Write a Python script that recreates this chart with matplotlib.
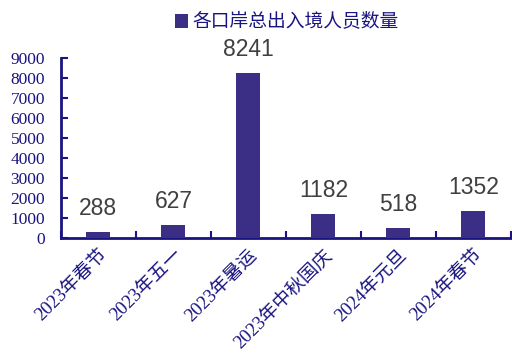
import numpy as np
import matplotlib
matplotlib.use("Agg")
from matplotlib import pyplot as plt
from matplotlib.ticker import FixedLocator, NullFormatter

# 出入境人员数量（万人次）
categories = ["2023年春节", "2023年五一", "2023年暑运", "2023年中秋国庆", "2024年元旦", "2024年春节"]
values = [288, 627, 8241, 1182, 518, 1352]
yticks = list(range(0, 9001, 1000))

bar_color = "#3B2F85"
axis_color = "#1A1480"
label_color = "#404040"
serif_fam = ["Liberation Serif", "Noto Sans CJK SC"]

fig = plt.figure(figsize=(5.12, 3.53), dpi=100, facecolor="white")
ax = fig.add_axes([0.119, 0.326, 0.879, 0.51])

x = np.arange(len(categories))
bars = ax.bar(x, values, width=0.32, color=bar_color, label="各口岸总出入境人员数量", zorder=3)

for xi, v in zip(x, values):
    ax.text(xi, v + 600, str(v), ha="center", va="bottom", fontsize=16.5,
            color=label_color, family="Liberation Sans")

ax.set_xlim(-0.5, len(categories) - 0.5)
ax.set_ylim(0, 9000)
ax.set_yticks(yticks)
ax.set_yticklabels([str(t) for t in yticks], family=serif_fam, fontsize=12.5, color=axis_color)

# category labels sit between the boundary ticks
ax.xaxis.set_major_locator(FixedLocator(np.arange(-0.5, len(categories), 1.0)))
ax.xaxis.set_major_formatter(NullFormatter())
ax.xaxis.set_minor_locator(FixedLocator(x))
ax.set_xticklabels(categories, minor=True, rotation=45, ha="right", va="top",
                   rotation_mode="anchor", family=serif_fam, fontsize=13.5, color=axis_color)
ax.tick_params(axis="x", which="minor", length=0, pad=6)
ax.tick_params(axis="x", which="major", direction="in", length=5, width=1.5, color=axis_color)
ax.tick_params(axis="y", direction="in", length=5, width=1.5, color=axis_color, pad=11.5)

for side in ["top", "right"]:
    ax.spines[side].set_visible(False)
for side in ["left", "bottom"]:
    ax.spines[side].set_color(axis_color)
    ax.spines[side].set_linewidth(2)

leg = fig.legend(loc="upper center", bbox_to_anchor=(0.56, 1.015), frameon=False,
                 handlelength=0.7, handleheight=0.7, handletextpad=0.2,
                 prop={"family": ["Noto Sans CJK SC"], "size": 13.5})
for t in leg.get_texts():
    t.set_color(axis_color)

fig.savefig("out.png", dpi=100)
